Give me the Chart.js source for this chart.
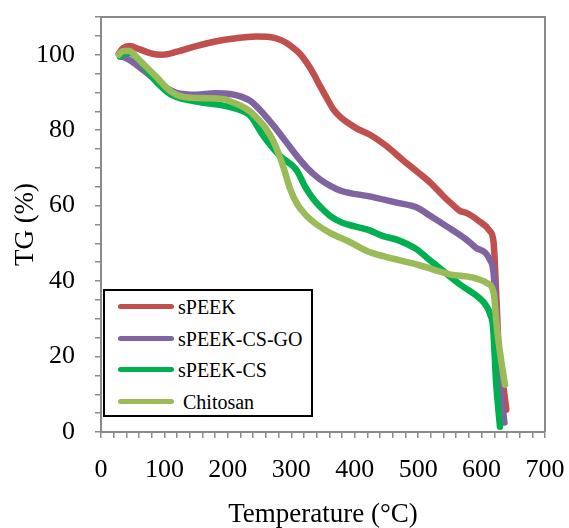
<!DOCTYPE html>
<html>
<head>
<meta charset="utf-8">
<script src="https://cdn.jsdelivr.net/npm/chart.js@4.4.1/dist/chart.umd.min.js"></script>
<style>
  html, body { margin: 0; padding: 0; background: #fff; }
  #wrap { position: relative; width: 569px; height: 528px; }
  #legend { position: absolute; left: 103px; top: 289px; width: 206px; height: 124px;
            border: 2px solid #000; background: #fff; font-family: "Liberation Serif", serif; font-size: 20px; }
  .sw { position: absolute; left: 13px; width: 56px; height: 5px; border-radius: 3px; }
  .lb { position: absolute; left: 73px; white-space: nowrap; line-height: 20px; }
</style>
</head>
<body>
<div id="wrap">
  <canvas id="c" width="569" height="528"></canvas>
  <div id="legend"></div>
</div>
<script>
// ---- data (temperature in °C, TG in %) ----
const seriesNames = ["sPEEK", "sPEEK-CS-GO", "sPEEK-CS", "Chitosan"];
const seriesColors = ["#C0504D", "#8064A2", "#00B050", "#9BBB59"];

const sPeekT  = [28, 35, 45, 60, 80, 96, 120, 150, 180, 210, 245, 266, 285, 298, 312, 324, 335, 345, 356, 366, 378, 388, 405, 424, 450, 477, 500, 519, 540, 556, 566, 577, 595, 613, 619, 623.5, 627, 634.5, 639];
const sPeekTG = [100.3, 101.8, 102.3, 101.5, 100.3, 100.0, 100.8, 102.3, 103.5, 104.3, 104.8, 104.7, 103.8, 102.5, 100.5, 98.0, 95.0, 91.8, 88.5, 85.6, 83.4, 82.1, 80.3, 78.8, 75.8, 71.9, 68.8, 66.1, 62.5, 60.0, 58.6, 58.0, 56.0, 53.3, 50.2, 35.0, 21.8, 12.0, 5.9];

const goT  = [30, 35, 45, 60, 77, 100, 119, 150, 180, 204, 235, 250, 272, 290, 308.6, 325, 345, 361, 377, 393, 419, 466, 498, 519, 545, 572, 590, 613, 619, 624, 629, 636];
const goTG = [99.6, 99.4, 98.6, 96.8, 94.5, 91.5, 89.9, 89.4, 89.8, 89.6, 87.8, 85.5, 81.2, 77.3, 73.2, 70.0, 67.0, 65.3, 64.0, 63.3, 62.6, 60.8, 59.5, 57.3, 54.5, 51.5, 49.0, 45.7, 42.0, 28.0, 13.8, 2.5];

const csT  = [30, 38, 48, 60, 88, 110, 140, 193, 204, 220, 235, 256, 282, 308, 322, 335, 348, 361, 380, 400, 419, 445, 466, 498, 515, 530, 566, 593, 608, 614, 618, 623, 629];
const csTG = [99.5, 100.5, 100.4, 98.5, 92.7, 89.5, 87.9, 86.5, 86.1, 85.3, 83.9, 78.5, 73.2, 69.5, 65.0, 61.7, 59.3, 57.3, 55.5, 54.5, 53.7, 51.9, 51.0, 48.4, 46.0, 44.0, 39.1, 36.0, 33.3, 31.0, 28.0, 13.0, 1.4];

const chitT  = [28, 35, 45, 55, 70, 88, 105, 119, 150, 193, 204, 220, 235, 246, 260, 272, 280, 288, 298, 309, 324, 340, 361, 393, 419, 445, 498, 550, 587, 608, 619, 624, 630, 637];
const chitTG = [100.0, 101.0, 101.0, 99.5, 97.0, 94.0, 91.0, 89.4, 88.5, 88.3, 87.6, 86.5, 85.0, 83.2, 80.5, 77.0, 73.8, 70.0, 64.5, 60.5, 57.3, 55.0, 52.8, 50.3, 48.0, 46.6, 44.4, 41.8, 40.9, 39.5, 36.9, 28.0, 20.0, 12.5];

const xTickLabels = [0, 100, 200, 300, 400, 500, 600, 700];
const yTickLabels = [0, 20, 40, 60, 80, 100];

// ---- build ----
const pairs = (xs, ys) => xs.map((x, i) => ({ x: x, y: ys[i] }));
const allT = [sPeekT, goT, csT, chitT];
const allTG = [sPeekTG, goTG, csTG, chitTG];

const datasets = seriesNames.map((name, i) => ({
  label: name,
  data: pairs(allT[i], allTG[i]),
  borderColor: seriesColors[i],
  backgroundColor: seriesColors[i],
  borderWidth: 6.5,
  pointRadius: 0,
  fill: false,
  cubicInterpolationMode: 'monotone',
  borderCapStyle: 'round',
  borderJoinStyle: 'round',
  order: seriesNames.length - i
}));

const axisGray = '#8a8a8a';
const serif = '"Liberation Serif", "Times New Roman", serif';

const frame = {
  id: 'frame',
  afterDatasetsDraw(chart) {
    const a = chart.chartArea, ctx = chart.ctx;
    ctx.save();
    ctx.strokeStyle = axisGray;
    ctx.lineWidth = 2;
    ctx.beginPath();
    ctx.moveTo(a.left, a.top);
    ctx.lineTo(a.right, a.top);
    ctx.lineTo(a.right, a.bottom);
    ctx.stroke();
    ctx.restore();
  }
};

new Chart(document.getElementById('c'), {
  type: 'line',
  data: { datasets: datasets },
  plugins: [frame],
  options: {
    responsive: false,
    animation: false,
    layout: { padding: { left: 0, right: 24, top: 17, bottom: 0 } },
    plugins: { legend: { display: false }, tooltip: { enabled: false } },
    scales: {
      x: {
        type: 'linear',
        min: xTickLabels[0], max: xTickLabels[xTickLabels.length - 1],
        grid: { drawOnChartArea: false, drawTicks: true, tickLength: 6, color: axisGray, lineWidth: 1.5 },
        border: { color: axisGray, width: 2 },
        ticks: {
          stepSize: 20, autoSkip: false, maxRotation: 0, padding: 17,
          color: '#000', font: { family: serif, size: 26 },
          callback: v => xTickLabels.includes(v) ? String(v) : ''
        },
        title: { display: true, text: 'Temperature (°C)', color: '#000', font: { family: serif, size: 27, lineHeight: 1.0 }, padding: { top: 0, bottom: 0 } },
        afterFit: s => { s.height = 96; s.paddingLeft = 0; s.paddingRight = 0; }
      },
      y: {
        type: 'linear',
        min: 0, max: 110,
        grid: { drawOnChartArea: false, drawTicks: true, tickLength: 6, color: axisGray, lineWidth: 1.5 },
        border: { color: axisGray, width: 2 },
        ticks: {
          stepSize: 5, autoSkip: false, padding: 20,
          color: '#000', font: { family: serif, size: 26 },
          callback: v => yTickLabels.includes(v) ? String(v) : ''
        },
        title: { display: true, text: 'TG (%)', color: '#000', font: { family: serif, size: 27 }, padding: { top: 10, bottom: 0 } },
        afterFit: s => { s.width = 101; s.paddingTop = 0; s.paddingBottom = 0; }
      }
    }
  }
});

// ---- legend ----
const lg = document.getElementById('legend');
const rowTops = [6, 37.5, 69, 101];
seriesNames.forEach((name, i) => {
  const sw = document.createElement('div');
  sw.className = 'sw';
  sw.style.top = (rowTops[i] + 7) + 'px';
  sw.style.background = seriesColors[i];
  lg.appendChild(sw);
  const lb = document.createElement('div');
  lb.className = 'lb';
  lb.style.top = rowTops[i] + 'px';
  if (name === 'Chitosan') lb.style.left = '78px';
  lb.textContent = name;
  lg.appendChild(lb);
});
</script>
</body>
</html>
